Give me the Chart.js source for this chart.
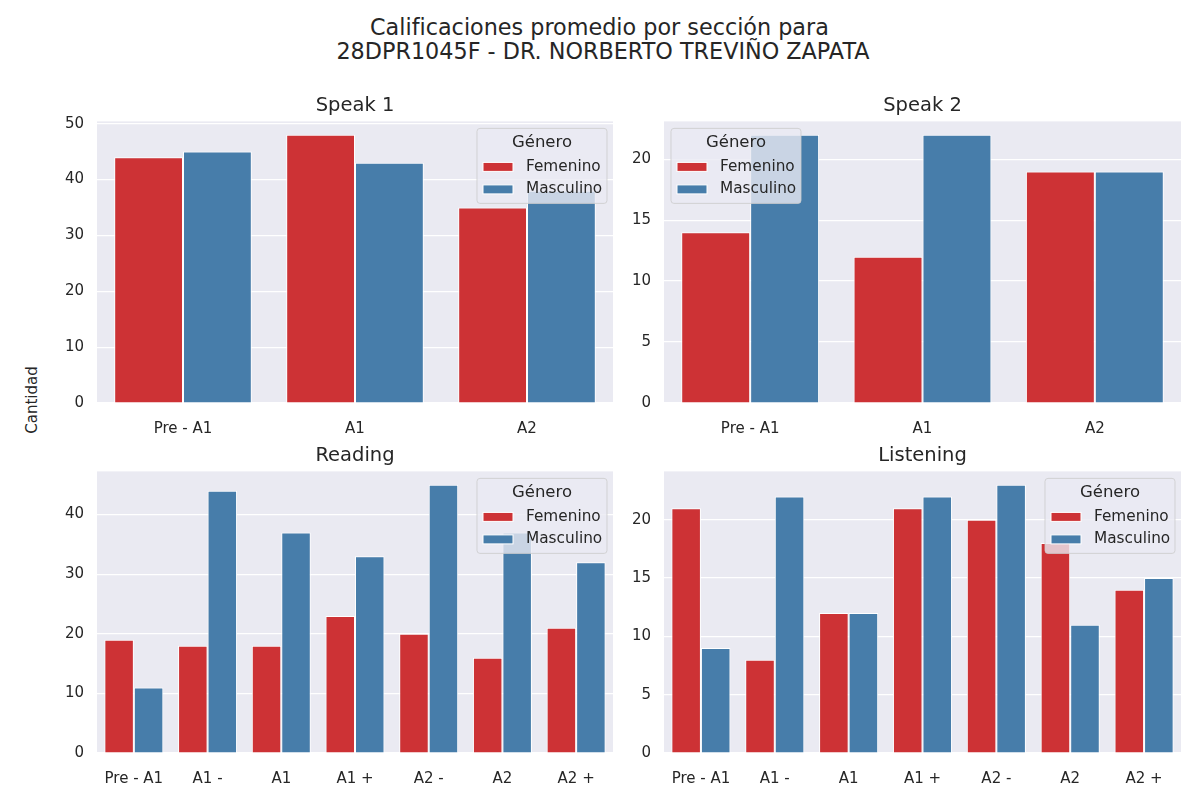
<!DOCTYPE html>
<html lang="es">
  <head>
    <meta charset="UTF-8">
    <title>Calificaciones promedio por sección</title>
    <script src="https://cdn.jsdelivr.net/npm/chart.js@4.4.0/dist/chart.umd.min.js"></script>
    <style>
      body { margin: 0; background: #fff; width: 1200px; height: 800px; position: relative; overflow: hidden; font-family: "DejaVu Sans", sans-serif; color: #262626; }
      .suptitle { position: absolute; left: 0; width: 1206px; top: 15px; text-align: center; font-size: 22.3px; line-height: 24px; white-space: pre; }
      .ylabel { position: absolute; left: 32px; top: 400px; font-size: 15px; transform: translate(-50%, -50%) rotate(-90deg); white-space: nowrap; }
      .panel { position: absolute; }
    </style>
  </head>
  <body>

<div class="suptitle">Calificaciones promedio por sección para 
28DPR1045F - DR. NORBERTO TREVIÑO ZAPATA</div>
<div class="ylabel">Cantidad</div>

<div class="panel" style="left:47px; top:88px; width:573px; height:345px;"><canvas id="speak1"></canvas></div>
<div class="panel" style="left:620px; top:88px; width:570px; height:345px;"><canvas id="speak2"></canvas></div>
<div class="panel" style="left:47px; top:438px; width:573px; height:345px;"><canvas id="reading"></canvas></div>
<div class="panel" style="left:620px; top:438px; width:570px; height:345px;"><canvas id="listening"></canvas></div>

<script>
// categories
const speakLevels = ['Pre - A1', 'A1', 'A2'];
const cefrLevels = ['Pre - A1', 'A1 -', 'A1', 'A1 +', 'A2 -', 'A2', 'A2 +'];
const genders = ['Femenino', 'Masculino'];

// values
const speak1Fem = [44, 48, 35];
const speak1Masc = [45, 43, 38];
const speak2Fem = [14, 12, 19];
const speak2Masc = [22, 22, 19];
const readingFem = [19, 18, 18, 23, 20, 16, 21];
const readingMasc = [11, 44, 37, 33, 45, 37, 32];
const listeningFem = [21, 8, 12, 21, 20, 18, 14];
const listeningMasc = [9, 22, 12, 22, 23, 11, 15];

// y tick labels
const speak1Ticks = [0, 10, 20, 30, 40, 50];
const speak2Ticks = [0, 5, 10, 15, 20];
const readingTicks = [0, 10, 20, 30, 40];
const listeningTicks = [0, 5, 10, 15, 20];

const red = 'rgb(205, 50, 53)';
const blue = 'rgb(71, 125, 170)';
const textColor = '#262626';
const fontFamily = "'DejaVu Sans', sans-serif";

// grey plot background like seaborn darkgrid
const bgPlugin = {
  id: 'plotBg',
  beforeDraw: function(chart) {
    var a = chart.chartArea, ctx = chart.ctx;
    ctx.save();
    ctx.fillStyle = '#EAEAF2';
    ctx.fillRect(a.left, a.top, a.right - a.left, a.bottom - a.top);
    ctx.restore();
  }
};

// legend box drawn inside the plot
const boxLegend = {
  id: 'boxLegend',
  afterDatasetsDraw: function(chart, args, opts) {
    var a = chart.chartArea, ctx = chart.ctx;
    var w = 130, h = 75;
    var x = opts.side === 'left' ? a.left + 7 : a.right - 6 - w;
    var y = a.top + 7;
    ctx.save();
    ctx.beginPath();
    ctx.roundRect(x, y, w, h, 3);
    ctx.fillStyle = 'rgba(234, 234, 242, 0.8)';
    ctx.fill();
    ctx.strokeStyle = 'rgba(204, 204, 204, 0.8)';
    ctx.lineWidth = 1;
    ctx.stroke();
    ctx.fillStyle = textColor;
    ctx.textAlign = 'center';
    ctx.textBaseline = 'middle';
    ctx.font = '16.5px ' + fontFamily;
    ctx.fillText('Género', x + w / 2, y + 14);
    ctx.textAlign = 'left';
    ctx.font = '15.3px ' + fontFamily;
    chart.data.datasets.forEach(function(ds, i) {
      var cy = y + 38.5 + i * 22.5;
      ctx.fillStyle = ds.backgroundColor;
      ctx.fillRect(x + 6, cy - 4.5, 30, 9);
      ctx.strokeStyle = '#fff';
      ctx.strokeRect(x + 6, cy - 4.5, 30, 9);
      ctx.fillStyle = textColor;
      ctx.fillText(ds.label, x + 49, cy);
    });
    ctx.restore();
  }
};

function makeChart(id, title, labels, fem, masc, ticks, yWidth, padRight, legendSide) {
  var ymax = Math.max.apply(null, fem.concat(masc)) * 1.05;
  return new Chart(document.getElementById(id), {
    type: 'bar',
    data: {
      labels: labels,
      datasets: [
        { label: genders[0], data: fem, backgroundColor: red, borderColor: '#fff', borderWidth: 1 },
        { label: genders[1], data: masc, backgroundColor: blue, borderColor: '#fff', borderWidth: 1 }
      ]
    },
    plugins: [bgPlugin, boxLegend],
    options: {
      responsive: true,
      maintainAspectRatio: false,
      animation: false,
      layout: { padding: { right: padRight, left: 0, top: 0, bottom: 0 } },
      datasets: { bar: { categoryPercentage: 0.8, barPercentage: 1.0 } },
      plugins: {
        legend: { display: false },
        tooltip: { enabled: false },
        title: {
          display: true,
          text: title,
          fullSize: false,
          color: textColor,
          font: { family: fontFamily, size: 19.5, weight: 'normal' },
          padding: { top: 6, bottom: 4 }
        },
        boxLegend: { side: legendSide }
      },
      scales: {
        x: {
          grid: { display: false },
          border: { display: false },
          ticks: { color: textColor, font: { family: fontFamily, size: 15 }, padding: 9 },
          afterFit: function(scale) { scale.height = 30; }
        },
        y: {
          min: 0,
          max: ymax,
          grid: { color: '#ffffff', lineWidth: 1.2, drawTicks: false },
          border: { display: false },
          ticks: { color: textColor, font: { family: fontFamily, size: 15 }, padding: 13 },
          afterBuildTicks: function(scale) {
            scale.ticks = ticks.map(function(v) { return { value: v }; });
          },
          afterFit: function(scale) { scale.width = yWidth; }
        }
      }
    }
  });
}

makeChart('speak1', 'Speak 1', speakLevels, speak1Fem, speak1Masc, speak1Ticks, 50, 7, 'right');
makeChart('speak2', 'Speak 2', speakLevels, speak2Fem, speak2Masc, speak2Ticks, 44, 9, 'left');
makeChart('reading', 'Reading', cefrLevels, readingFem, readingMasc, readingTicks, 50, 7, 'right');
makeChart('listening', 'Listening', cefrLevels, listeningFem, listeningMasc, listeningTicks, 44, 9, 'right');
</script>

  </body>
</html>
